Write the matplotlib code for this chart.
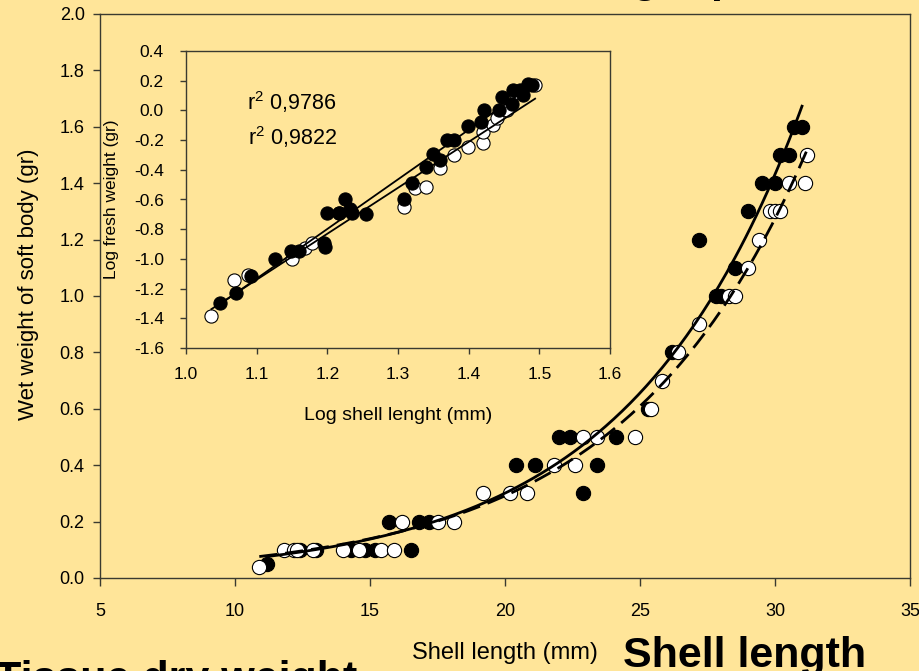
import numpy as np
import matplotlib
matplotlib.use("Agg")
import matplotlib.pyplot as plt

plt.rcParams["font.family"] = ["Liberation Sans", "DejaVu Sans"]
plt.rcParams["mathtext.fontset"] = "custom"
plt.rcParams["mathtext.rm"] = "Liberation Sans"

BG = "#FFE599"
SPINE = "#3a3a30"

# main panel: shell length (mm) vs wet weight of soft body (gr)
filled_x = [11.2, 12.4, 13.0, 14.3, 14.8, 15.2, 16.5, 15.7, 16.8, 17.2, 22.9,
            20.4, 21.1, 23.4, 22.0, 22.4, 24.1, 25.3, 26.2, 27.8, 28.0, 28.5,
            27.2, 29.0, 29.5, 30.0, 30.2, 30.5, 30.7, 31.0]
filled_y = [0.05, 0.1, 0.1, 0.1, 0.1, 0.1, 0.1, 0.2, 0.2, 0.2, 0.3,
            0.4, 0.4, 0.4, 0.5, 0.5, 0.5, 0.6, 0.8, 1.0, 1.0, 1.1,
            1.2, 1.3, 1.4, 1.4, 1.5, 1.5, 1.6, 1.6]
open_x = [10.9, 11.8, 12.2, 12.3, 12.9, 14.0, 14.6, 15.4, 15.9, 16.2, 17.5,
          18.1, 19.2, 20.2, 20.8, 21.8, 22.6, 22.9, 23.4, 24.8, 25.4, 25.8,
          26.4, 27.2, 28.3, 28.5, 29.0, 29.4, 29.8, 30.0, 30.2, 30.5, 31.1,
          31.2]
open_y = [0.04, 0.1, 0.1, 0.1, 0.1, 0.1, 0.1, 0.1, 0.1, 0.2, 0.2,
          0.2, 0.3, 0.3, 0.3, 0.4, 0.4, 0.5, 0.5, 0.5, 0.6, 0.7,
          0.8, 0.9, 1.0, 1.0, 1.1, 1.2, 1.3, 1.3, 1.3, 1.4, 1.4,
          1.5]

# inset: log shell length vs log fresh weight
in_filled_x = [1.048, 1.071, 1.092, 1.126, 1.148, 1.160, 1.195, 1.197, 1.199,
               1.217, 1.225, 1.232, 1.235, 1.255, 1.308, 1.320, 1.340, 1.349,
               1.359, 1.369, 1.379, 1.399, 1.418, 1.421, 1.443, 1.447, 1.461,
               1.463, 1.472, 1.477, 1.484, 1.489]
in_filled_y = [-1.298, -1.230, -1.114, -1.002, -0.944, -0.944, -0.895, -0.921,
               -0.693, -0.693, -0.599, -0.665, -0.693, -0.697, -0.599, -0.491,
               -0.384, -0.294, -0.335, -0.196, -0.196, -0.106, -0.077, 0.0,
               0.0, 0.091, 0.046, 0.14, 0.136, 0.102, 0.181, 0.169]
in_open_x = [1.036, 1.068, 1.088, 1.150, 1.168, 1.179, 1.216, 1.308, 1.324,
             1.340, 1.359, 1.379, 1.399, 1.420, 1.420, 1.434, 1.440, 1.454,
             1.465, 1.494]
in_open_y = [-1.387, -1.141, -1.107, -1.002, -0.928, -0.895, -0.690, -0.648,
             -0.525, -0.514, -0.390, -0.301, -0.245, -0.218, -0.144, -0.095,
             -0.048, 0.0, 0.12, 0.169]
r2_labels = [r"r$^{\mathrm{2}}$ 0,9786", r"r$^{\mathrm{2}}$ 0,9822"]

main_yticks = [0.0, 0.2, 0.4, 0.6, 0.8, 1.0, 1.2, 1.4, 1.6, 1.8, 2.0]
inset_xticks = [1.0, 1.1, 1.2, 1.3, 1.4, 1.5, 1.6]
inset_yticks = [-1.6, -1.4, -1.2, -1.0, -0.8, -0.6, -0.4, -0.2, 0.0, 0.2, 0.4]


def exp_fit(x, y):
    # least-squares fit of y = a * exp(b * x), started from the log-linear fit
    x = np.asarray(x, float)
    y = np.asarray(y, float)
    b, lna = np.polyfit(x, np.log(y), 1)
    a = np.exp(lna)
    for _ in range(100):
        e = np.exp(b * x)
        J = np.column_stack([e, a * x * e])
        step, *_ = np.linalg.lstsq(J, y - a * e, rcond=None)
        a, b = a + step[0], b + step[1]
    return a, b


fig = plt.figure(figsize=(9.2, 6.71), dpi=100, facecolor=BG)

ax = fig.add_axes([100 / 920, 1 - 578 / 671, 810 / 920, 564 / 671])
ax.set_facecolor("none")
ax.scatter(filled_x, filled_y, s=105, c="black", edgecolors="black",
           linewidths=0.8, zorder=3)
ax.scatter(open_x, open_y, s=105, c="white", edgecolors="black",
           linewidths=0.8, zorder=4)
for xs, ys, ls in [(filled_x, filled_y, "-"),
                   (open_x, open_y, (0, (6.5, 2.9)))]:
    a, b = exp_fit(xs, ys)
    xx = np.linspace(min(xs), max(xs), 200)
    ax.plot(xx, a * np.exp(b * xx), color="black", lw=2.0, ls=ls, zorder=5)

ax.set_xlim(5, 35)
ax.set_ylim(0, 2.0)
ax.set_xticks(np.arange(5, 36, 5))
ax.set_yticks(main_yticks)
ax.set_yticklabels([f"{v:.1f}" for v in main_yticks])
ax.tick_params(axis="x", direction="out", length=6, width=1, color=SPINE,
               labelsize=13, pad=12)
ax.tick_params(axis="y", direction="out", length=5, width=1, color=SPINE,
               labelsize=13, pad=6)
for sp in ax.spines.values():
    sp.set_color(SPINE)
    sp.set_linewidth(1.0)
ax.set_xlabel("Shell length (mm)", fontsize=17, labelpad=16)
ax.set_ylabel("Wet weight of soft body (gr)", fontsize=16)
ax.yaxis.set_label_coords(-61 / 810, 1 - (284 - 14) / 564)

# inset
ax_in = fig.add_axes([186 / 920, 1 - 348 / 671, 424 / 920, 297 / 671])
ax_in.set_facecolor("none")
ax_in.scatter(in_open_x, in_open_y, s=90, c="white", edgecolors="black",
              linewidths=0.8, zorder=3)
ax_in.scatter(in_filled_x, in_filled_y, s=90, c="black", edgecolors="black",
              linewidths=0.8, zorder=4)
for xs, ys in [(in_filled_x, in_filled_y), (in_open_x, in_open_y)]:
    m, c = np.polyfit(xs, ys, 1)
    xx = np.array([min(xs), max(xs)])
    ax_in.plot(xx, m * xx + c, color="black", lw=1.3, zorder=5)

ax_in.set_xlim(1.0, 1.6)
ax_in.set_ylim(-1.6, 0.4)
ax_in.set_xticks(inset_xticks)
ax_in.set_xticklabels([f"{v:.1f}" for v in inset_xticks])
ax_in.set_yticks(inset_yticks)
ax_in.set_yticklabels([f"{v:.1f}" for v in inset_yticks])
ax_in.tick_params(axis="x", direction="out", length=4, width=1, color=SPINE,
                  labelsize=12.5, pad=10)
ax_in.tick_params(axis="y", direction="out", length=4, width=1, color=SPINE,
                  labelsize=12.5, pad=12)
for sp in ax_in.spines.values():
    sp.set_color(SPINE)
    sp.set_linewidth(1.0)
ax_in.set_xlabel("Log shell lenght (mm)", fontsize=14, labelpad=18)
ax_in.set_ylabel("Log fresh weight (gr)", fontsize=12.5)
ax_in.yaxis.set_label_coords((119 - 186) / 424, 0.5)

ax_in.text(1.086, 0.005, r2_labels[0], fontsize=15.5, va="baseline")
ax_in.text(1.088, -0.235, r2_labels[1], fontsize=15.5, va="baseline")

# slide text around the chart, partly cut by the frame
fig.text(332 / 920, 1 + 8 / 671, "Tissue wet weight per shell length",
         fontsize=31, fontweight="bold", va="baseline")
fig.text(-5 / 920, 1 - 691 / 671, "Tissue dry weight",
         fontsize=31, fontweight="bold", va="baseline")
fig.text(623 / 920, 1 - 667 / 671, "Shell length",
         fontsize=31, fontweight="bold", va="baseline")

fig.savefig("out.png", dpi=100, facecolor=BG)
